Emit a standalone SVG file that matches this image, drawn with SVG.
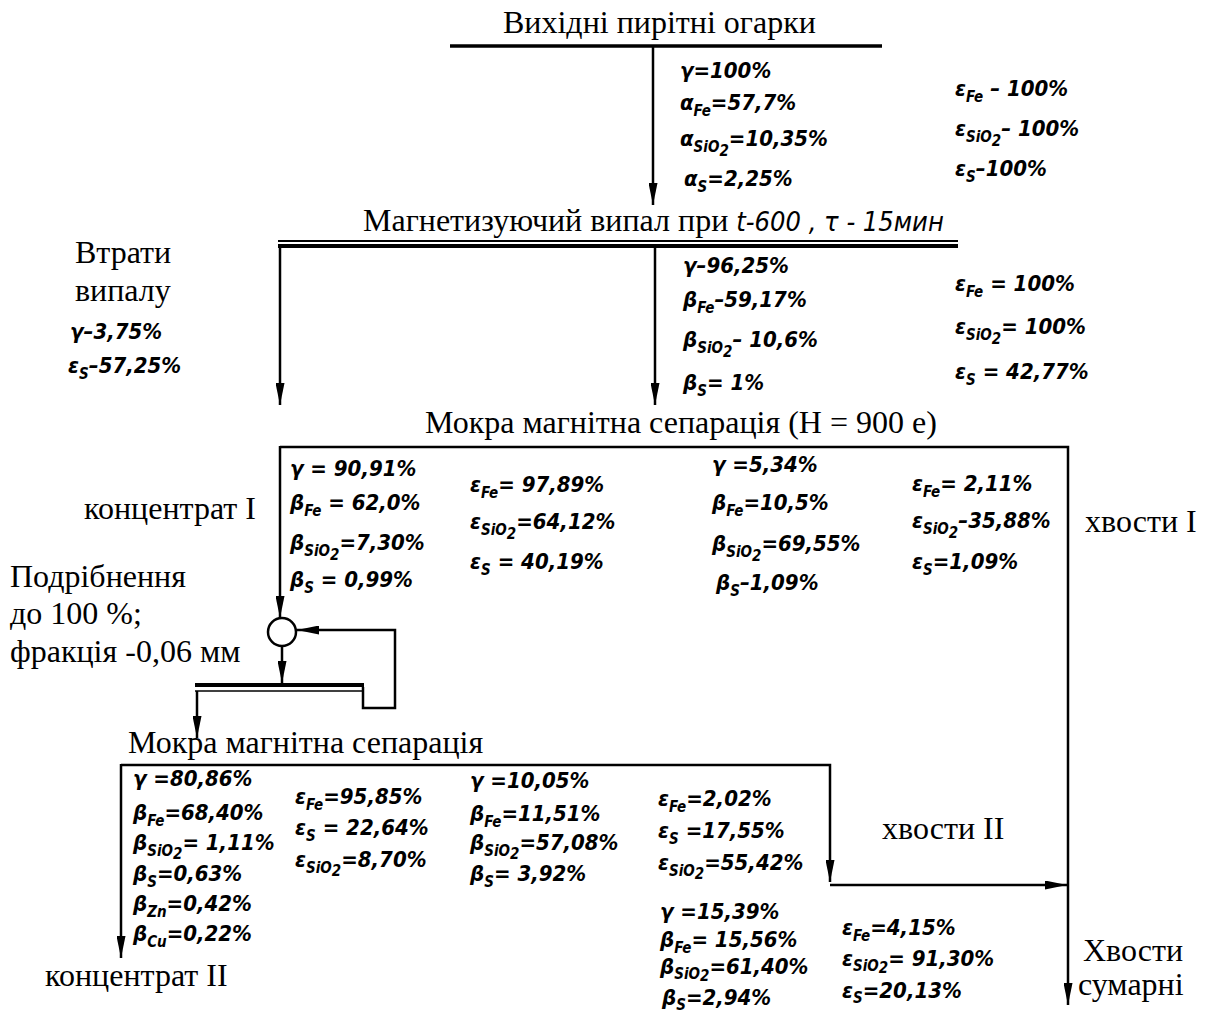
<svg xmlns="http://www.w3.org/2000/svg" width="1208" height="1020" viewBox="0 0 1208 1020">
<style>
.l{font-family:"Liberation Serif","Times New Roman",serif;font-size:32px;fill:#000}
.h{font-family:"DejaVu Sans Condensed","DejaVu Sans",sans-serif;font-style:italic;font-weight:bold;font-size:22px;fill:#000}
.s{font-size:15px}
.ln{stroke:#000;stroke-width:2.5;fill:none}
.th{stroke:#000;stroke-width:3.5;fill:none}
</style>
<defs>
<marker id="a" viewBox="0 0 22 9" refX="22" refY="4.5" markerWidth="22" markerHeight="9" markerUnits="userSpaceOnUse" orient="auto">
<path d="M0,0 L22,4.5 L0,9 z" fill="#000"/>
</marker>
</defs>
<rect width="1208" height="1020" fill="#fff"/>

<g id="connectors">
<line class="th" x1="450" y1="46" x2="882" y2="46"/>
<line class="ln" x1="653" y1="46" x2="653" y2="205" marker-end="url(#a)"/>
<line stroke="#000" stroke-width="2" x1="278" y1="241" x2="958" y2="241"/>
<line stroke="#000" stroke-width="4" x1="278" y1="246" x2="958" y2="246"/>
<line class="ln" x1="280" y1="246" x2="280" y2="405" marker-end="url(#a)"/>
<line class="ln" x1="655" y1="248" x2="655" y2="405" marker-end="url(#a)"/>
<polyline class="ln" points="280,447 1068,447 1068,1005" marker-end="url(#a)"/>
<line class="ln" x1="280" y1="446" x2="280" y2="618" marker-end="url(#a)"/>
<circle class="ln" cx="282" cy="632" r="14"/>
<line class="ln" x1="282" y1="646" x2="282" y2="683" marker-end="url(#a)"/>
<polyline class="ln" points="363,687 363,708 395,708 395,630 297,630" marker-end="url(#a)"/>
<line stroke="#000" stroke-width="4" x1="195" y1="685" x2="364" y2="685"/>
<line stroke="#000" stroke-width="1.5" x1="195" y1="691" x2="364" y2="691"/>
<line class="ln" x1="197" y1="691" x2="197" y2="738" marker-end="url(#a)"/>
<polyline class="ln" points="121,765 830,765 830,882" marker-end="url(#a)"/>
<line class="ln" x1="121" y1="764" x2="121" y2="958" marker-end="url(#a)"/>
<line class="ln" x1="830" y1="885" x2="1067" y2="885" marker-end="url(#a)"/>
</g>

<g id="feed">
<text class="l" x="503" y="33">Вихідні пирітні огарки</text>
<text class="h" x="680" y="78">γ=100%</text>
<text class="h" x="680" y="110">α<tspan class="s" dy="6">Fe</tspan><tspan dy="-6">=57,7%</tspan></text>
<text class="h" x="680" y="146">α<tspan class="s" dy="6">SiO</tspan><tspan class="s" dy="4">2</tspan><tspan dy="-10">=10,35%</tspan></text>
<text class="h" x="684" y="186">α<tspan class="s" dy="6">S</tspan><tspan dy="-6">=2,25%</tspan></text>
<text class="h" x="955" y="96">ε<tspan class="s" dy="6">Fe</tspan><tspan dy="-6"> – 100%</tspan></text>
<text class="h" x="955" y="136">ε<tspan class="s" dy="6">SiO</tspan><tspan class="s" dy="4">2</tspan><tspan dy="-10">– 100%</tspan></text>
<text class="h" x="955" y="176">ε<tspan class="s" dy="6">S</tspan><tspan dy="-6">–100%</tspan></text>
</g>

<g id="roasting">
<text class="l" x="363" y="231">Магнетизуючий випал при <tspan class="h" style="font-size:27px;font-weight:normal">t-600 , τ - 15мин</tspan></text>
<text class="h" x="683" y="273">γ–96,25%</text>
<text class="h" x="683" y="307">β<tspan class="s" dy="6">Fe</tspan><tspan dy="-6">–59,17%</tspan></text>
<text class="h" x="683" y="347">β<tspan class="s" dy="6">SiO</tspan><tspan class="s" dy="4">2</tspan><tspan dy="-10">– 10,6%</tspan></text>
<text class="h" x="683" y="390">β<tspan class="s" dy="6">S</tspan><tspan dy="-6">= 1%</tspan></text>
<text class="h" x="955" y="291">ε<tspan class="s" dy="6">Fe</tspan><tspan dy="-6"> = 100%</tspan></text>
<text class="h" x="955" y="334">ε<tspan class="s" dy="6">SiO</tspan><tspan class="s" dy="4">2</tspan><tspan dy="-10">= 100%</tspan></text>
<text class="h" x="955" y="379">ε<tspan class="s" dy="6">S</tspan><tspan dy="-6"> = 42,77%</tspan></text>
</g>

<g id="losses">
<text class="l" x="75" y="263">Втрати</text>
<text class="l" x="75" y="301">випалу</text>
<text class="h" x="70" y="339">γ–3,75%</text>
<text class="h" x="68" y="373">ε<tspan class="s" dy="6">S</tspan><tspan dy="-6">–57,25%</tspan></text>
</g>

<g id="separation1">
<text class="l" x="425" y="433">Мокра магнітна сепарація (Н = 900 е)</text>
</g>

<g id="concentrate1">
<text class="l" x="84" y="519">концентрат І</text>
<text class="h" x="290" y="476">γ = 90,91%</text>
<text class="h" x="290" y="510">β<tspan class="s" dy="6">Fe</tspan><tspan dy="-6"> = 62,0%</tspan></text>
<text class="h" x="290" y="550">β<tspan class="s" dy="6">SiO</tspan><tspan class="s" dy="4">2</tspan><tspan dy="-10">=7,30%</tspan></text>
<text class="h" x="290" y="587">β<tspan class="s" dy="6">S</tspan><tspan dy="-6"> = 0,99%</tspan></text>
<text class="h" x="470" y="492">ε<tspan class="s" dy="6">Fe</tspan><tspan dy="-6">= 97,89%</tspan></text>
<text class="h" x="470" y="529">ε<tspan class="s" dy="6">SiO</tspan><tspan class="s" dy="4">2</tspan><tspan dy="-10">=64,12%</tspan></text>
<text class="h" x="470" y="569">ε<tspan class="s" dy="6">S</tspan><tspan dy="-6"> = 40,19%</tspan></text>
</g>

<g id="tails1">
<text class="h" x="712" y="472">γ =5,34%</text>
<text class="h" x="712" y="510">β<tspan class="s" dy="6">Fe</tspan><tspan dy="-6">=10,5%</tspan></text>
<text class="h" x="712" y="551">β<tspan class="s" dy="6">SiO</tspan><tspan class="s" dy="4">2</tspan><tspan dy="-10">=69,55%</tspan></text>
<text class="h" x="716" y="590">β<tspan class="s" dy="6">S</tspan><tspan dy="-6">–1,09%</tspan></text>
<text class="h" x="912" y="491">ε<tspan class="s" dy="6">Fe</tspan><tspan dy="-6">= 2,11%</tspan></text>
<text class="h" x="912" y="528">ε<tspan class="s" dy="6">SiO</tspan><tspan class="s" dy="4">2</tspan><tspan dy="-10">–35,88%</tspan></text>
<text class="h" x="912" y="569">ε<tspan class="s" dy="6">S</tspan><tspan dy="-6">=1,09%</tspan></text>
<text class="l" x="1085" y="532">хвости І</text>
</g>

<g id="grinding">
<text class="l" x="10" y="587">Подрібнення</text>
<text class="l" x="10" y="624">до 100 %;</text>
<text class="l" x="10" y="662">фракція -0,06 мм</text>
</g>

<g id="separation2">
<text class="l" x="128" y="753">Мокра магнітна сепарація</text>
</g>

<g id="concentrate2">
<text class="h" x="133" y="786">γ =80,86%</text>
<text class="h" x="133" y="820">β<tspan class="s" dy="6">Fe</tspan><tspan dy="-6">=68,40%</tspan></text>
<text class="h" x="133" y="850">β<tspan class="s" dy="6">SiO</tspan><tspan class="s" dy="3">2</tspan><tspan dy="-9">= 1,11%</tspan></text>
<text class="h" x="133" y="881">β<tspan class="s" dy="6">S</tspan><tspan dy="-6">=0,63%</tspan></text>
<text class="h" x="133" y="911">β<tspan class="s" dy="6">Zn</tspan><tspan dy="-6">=0,42%</tspan></text>
<text class="h" x="133" y="941">β<tspan class="s" dy="6">Cu</tspan><tspan dy="-6">=0,22%</tspan></text>
<text class="h" x="295" y="804">ε<tspan class="s" dy="6">Fe</tspan><tspan dy="-6">=95,85%</tspan></text>
<text class="h" x="295" y="835">ε<tspan class="s" dy="6">S</tspan><tspan dy="-6"> = 22,64%</tspan></text>
<text class="h" x="295" y="867">ε<tspan class="s" dy="6">SiO</tspan><tspan class="s" dy="3">2</tspan><tspan dy="-9">=8,70%</tspan></text>
<text class="l" x="45" y="986">концентрат ІІ</text>
</g>

<g id="tails2">
<text class="h" x="470" y="788">γ =10,05%</text>
<text class="h" x="470" y="821">β<tspan class="s" dy="6">Fe</tspan><tspan dy="-6">=11,51%</tspan></text>
<text class="h" x="470" y="850">β<tspan class="s" dy="6">SiO</tspan><tspan class="s" dy="3">2</tspan><tspan dy="-9">=57,08%</tspan></text>
<text class="h" x="470" y="881">β<tspan class="s" dy="6">S</tspan><tspan dy="-6">= 3,92%</tspan></text>
<text class="h" x="658" y="806">ε<tspan class="s" dy="6">Fe</tspan><tspan dy="-6">=2,02%</tspan></text>
<text class="h" x="658" y="838">ε<tspan class="s" dy="6">S</tspan><tspan dy="-6"> =17,55%</tspan></text>
<text class="h" x="658" y="870">ε<tspan class="s" dy="6">SiO</tspan><tspan class="s" dy="3">2</tspan><tspan dy="-9">=55,42%</tspan></text>
<text class="l" x="882" y="839">хвости ІІ</text>
</g>

<g id="tails-total">
<text class="h" x="660" y="919">γ =15,39%</text>
<text class="h" x="660" y="947">β<tspan class="s" dy="6">Fe</tspan><tspan dy="-6">= 15,56%</tspan></text>
<text class="h" x="660" y="974">β<tspan class="s" dy="5">SiO</tspan><tspan class="s" dy="2">2</tspan><tspan dy="-7">=61,40%</tspan></text>
<text class="h" x="662" y="1005">β<tspan class="s" dy="5">S</tspan><tspan dy="-5">=2,94%</tspan></text>
<text class="h" x="842" y="935">ε<tspan class="s" dy="6">Fe</tspan><tspan dy="-6">=4,15%</tspan></text>
<text class="h" x="842" y="966">ε<tspan class="s" dy="5">SiO</tspan><tspan class="s" dy="2">2</tspan><tspan dy="-7">= 91,30%</tspan></text>
<text class="h" x="842" y="998">ε<tspan class="s" dy="5">S</tspan><tspan dy="-5">=20,13%</tspan></text>
<text class="l" x="1083" y="961">Хвости</text>
<text class="l" x="1078" y="995">сумарні</text>
</g>
</svg>
